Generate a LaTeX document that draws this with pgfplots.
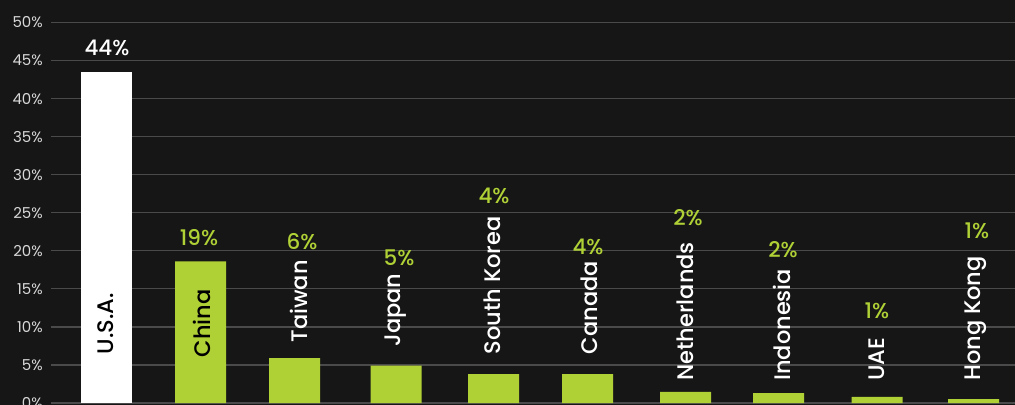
\documentclass[border=0pt]{standalone}
\usepackage{pgfplots}
\pgfplotsset{compat=1.18}
\usepackage{fontspec}
\setmainfont{Poppins}
\newfontfamily\medfont{Poppins Medium}
\definecolor{bg}{HTML}{161616}
\definecolor{grn}{HTML}{B0D136}
\definecolor{gridc}{HTML}{4A4A4A}
\definecolor{tickc}{HTML}{D8D8D8}
\newcommand\catfont{\medfont\fontsize{22.5bp}{26bp}\selectfont}
\newcommand\valfont{\medfont\fontsize{21.5bp}{25bp}\selectfont}
\begin{document}
\begin{tikzpicture}
\path[use as bounding box] (0,0) rectangle (1015bp,405bp);
\fill[bg] (0,0) rectangle (1015bp,405bp);
\clip (0,0) rectangle (1015bp,405bp);
\begin{axis}[
  at={(51bp,2bp)}, anchor=south west,
  scale only axis, width=964bp, height=380.5bp,
  xmin=51, xmax=1015, ymin=0, ymax=50,
  ybar,
  axis line style={draw=none},
  major tick length=0pt,
  xtick=\empty,
  ytick={0,5,10,15,20,25,30,35,40,45,50},
  yticklabels={0\%,5\%,10\%,15\%,20\%,25\%,30\%,35\%,40\%,45\%,50\%},
  yticklabel style={font=\fontsize{15bp}{18bp}\selectfont, text=tickc, inner sep=0pt, xshift=-8bp},
  /pgf/number format/assume math mode=true,
  ymajorgrids,
  grid style={gridc, line width=1.2bp},
  clip=false,
]
\addplot[fill=white, draw=none, bar width=51bp, bar shift=0pt] coordinates {(106.5,43.5)};
\addplot[fill=grn, draw=none, bar width=51bp, bar shift=0pt] coordinates {
  (200.5,18.6) (294.5,5.9) (396,4.9) (493.5,3.8) (587.5,3.8)
  (685.5,1.45) (778.5,1.3) (877,0.8) (973.5,0.5)};
% category labels
\tikzset{cat/.style={rotate=90, anchor=west, inner sep=0pt, font=\catfont, text=white}}
\node[cat, text=black] at (axis cs:106,6.4) {U.S.A.};
\node[cat, text=black] at (axis cs:202,6.0) {China};
\node[cat] at (axis cs:299,7.9) {Taiwan};
\node[cat] at (axis cs:396,7.4) {Japan};
\node[cat] at (axis cs:492,6.4) {South Korea};
\node[cat] at (axis cs:589,6.4) {Canada};
\node[cat] at (axis cs:685,2.9) {Netherlands};
\node[cat] at (axis cs:782,2.9) {Indonesia};
\node[cat] at (axis cs:877,2.9) {UAE};
\node[cat] at (axis cs:976,2.9) {Hong Kong};
% value labels
\tikzset{val/.style={inner sep=0pt, font=\valfont, text=grn}}
\node[val, text=white] at (axis cs:107,46.6) {44\%};
\node[val] at (axis cs:199,21.7) {19\%};
\node[val] at (axis cs:302,21.2) {6\%};
\node[val] at (axis cs:399,19.05) {5\%};
\node[val] at (axis cs:494,27.2) {4\%};
\node[val] at (axis cs:588,20.5) {4\%};
\node[val] at (axis cs:688,24.3) {2\%};
\node[val] at (axis cs:783,20.1) {2\%};
\node[val] at (axis cs:877,12.1) {1\%};
\node[val] at (axis cs:977,22.6) {1\%};
\end{axis}
\end{tikzpicture}
\end{document}
